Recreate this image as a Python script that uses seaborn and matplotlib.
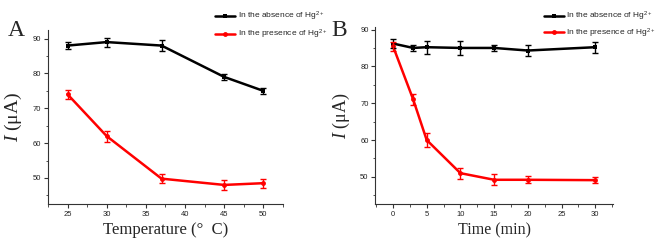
import matplotlib
matplotlib.use("Agg")
import matplotlib.pyplot as plt
import seaborn as sns
import pandas as pd
from matplotlib.ticker import MultipleLocator

sns.set_theme(style="ticks")
plt.rcParams['font.family'] = ['Liberation Sans', 'DejaVu Sans']
plt.rcParams['mathtext.fontset'] = 'custom'
plt.rcParams['mathtext.rm'] = 'Liberation Sans'
plt.rcParams['mathtext.it'] = 'Liberation Serif:italic'

# Panel A data
temp = [25, 30, 37, 45, 50]
temp_absence = [88.0, 89.0, 88.0, 79.0, 75.0]
temp_absence_err = [1.0, 1.3, 1.5, 0.8, 0.8]
temp_presence = [74.0, 62.0, 49.8, 48.0, 48.5]
temp_presence_err = [1.2, 1.6, 1.2, 1.5, 1.3]

# Panel B data
time = [0, 3, 5, 10, 15, 20, 30]
time_absence = [86.2, 85.0, 85.2, 85.0, 85.0, 84.3, 85.2]
time_absence_err = [1.2, 0.8, 1.8, 1.8, 0.8, 1.5, 1.5]
time_presence = [85.5, 71.0, 60.0, 51.0, 49.2, 49.2, 49.1]
time_presence_err = [1.2, 1.5, 1.8, 1.5, 1.5, 1.0, 0.9]

label_abs = "In the absence of Hg$^{2+}$"
label_pres = "In the presence of Hg$^{2+}$"

fig = plt.figure(figsize=(6.61, 2.45), dpi=100)
axA = fig.add_axes([0.0726, 0.167, 0.3554, 0.711])
axB = fig.add_axes([0.568, 0.167, 0.359, 0.723])

def draw(ax, x, ya, ea, yp, ep):
    df = pd.DataFrame({"x": x * 2, "y": ya + yp,
                       "s": [label_abs] * len(x) + [label_pres] * len(x)})
    sns.lineplot(data=df, x="x", y="y", hue="s", style="s",
                 palette={label_abs: "black", label_pres: "#ff0000"},
                 markers={label_abs: "s", label_pres: "o"}, dashes=False,
                 markersize=3.5, linewidth=1.8, markeredgewidth=0,
                 ax=ax, legend=True)
    ax.errorbar(x, ya, yerr=ea, fmt="none", ecolor="black", elinewidth=1.0,
                capsize=2, capthick=1.0)
    ax.errorbar(x, yp, yerr=ep, fmt="none", ecolor="#ff0000", elinewidth=1.0,
                capsize=2, capthick=1.0)
    sns.despine(ax=ax)
    ax.tick_params(axis="both", which="major", direction="out", length=3,
                   width=0.8, labelsize=5.5, pad=2, colors="#333333",
                   labelcolor="#222222")
    ax.tick_params(axis="both", which="minor", direction="out", length=1.8,
                   width=0.6, colors="#333333")
    for sp in ax.spines.values():
        sp.set_linewidth(0.8)
        sp.set_color("#333333")
    ax.yaxis.set_major_locator(MultipleLocator(10))
    ax.yaxis.set_minor_locator(MultipleLocator(5))
    ax.xaxis.set_major_locator(MultipleLocator(5))
    ax.xaxis.set_minor_locator(MultipleLocator(2.5))

draw(axA, temp, temp_absence, temp_absence_err, temp_presence, temp_presence_err)
draw(axB, time, time_absence, time_absence_err, time_presence, time_presence_err)

axA.set_xlim(22.5, 52.5)
axA.set_ylim(42.5, 92.5)
axB.set_xlim(-2.6, 32.6)
axB.set_ylim(42.6, 90.7)

serif = ['Liberation Serif', 'DejaVu Serif']
axA.set_xlabel("Temperature (°  C)", family=serif, fontsize=12, labelpad=3)
axB.set_xlabel("Time (min)", family=serif, fontsize=11.5, labelpad=3)
axA.set_ylabel(r"$\mathit{I}$ (μA)", family=serif, fontsize=14, labelpad=6)
axB.set_ylabel(r"$\mathit{I}$ (μA)", family=serif, fontsize=13, labelpad=6)

fig.text(0.012, 0.855, "A", family=serif, fontsize=17)
fig.text(0.502, 0.855, "B", family=serif, fontsize=17)

for ax, anchor, sp in ((axA, (0.495, 0.96), 0.6), (axB, (0.992, 0.96), 0.4)):
    h, l = ax.get_legend_handles_labels()
    ax.get_legend().remove()
    fig.legend(h, l, loc="upper right", bbox_to_anchor=anchor,
               bbox_transform=fig.transFigure, frameon=False,
               fontsize=6, handlelength=2.4, handletextpad=0.3,
               labelspacing=sp, borderaxespad=0, borderpad=0)

fig.savefig("out.png", dpi=100)
